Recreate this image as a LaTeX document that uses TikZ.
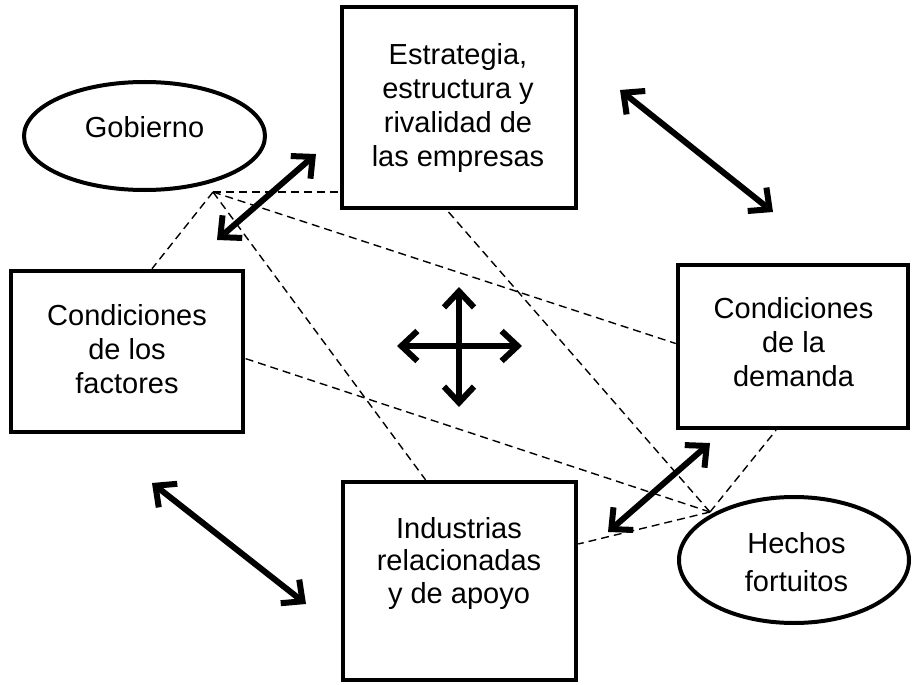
\documentclass[tikz,border=0pt]{standalone}
\usepackage{fontspec}
\setmainfont{Liberation Sans}
\usetikzlibrary{arrows.meta,calc,shapes.geometric}
\begin{document}
\begin{tikzpicture}[x=1pt,y=-1pt,
  box/.style={draw,line width=4.5pt,rectangle,inner sep=0pt},
  oval/.style={draw,line width=4pt,ellipse,inner sep=0pt},
  txt/.style={align=center,inner sep=0pt,font=\fontsize{29}{#1}\selectfont},
  txt/.default=34,
  dsh/.style={dash pattern=on 8pt off 5pt,line width=1.4pt},
  tip/.style={Straight Barb[length=16pt,width=30pt,round]},
  dbl/.style={line width=6pt,{Straight Barb[length=16pt,width=30pt]}-{Straight Barb[length=16pt,width=30pt]},line cap=round}]
\useasboundingbox (0,0) rectangle (913,685);

% boxes
\node[box,minimum width=234pt,minimum height=201pt] (top) at (459,107.5) {};
\node[box,minimum width=232pt,minimum height=161pt] (left) at (127,351.5) {};
\node[box,minimum width=230pt,minimum height=163pt] (right) at (793,346.5) {};
\node[box,minimum width=233pt,minimum height=198pt] (bot) at (459.5,581) {};
\node[oval,minimum width=241pt,minimum height=108pt] (gob) at (144.5,136) {};
\node[oval,minimum width=230pt,minimum height=126pt] (hech) at (794,560) {};

% texts
\node[txt=34] (ttop) at (458,108) {Estrategia,\\estructura y\\rivalidad de\\las empresas};
\node[txt=34] (tleft) at (127,349) {Condiciones\\de los\\factores};
\node[txt=34] (tright) at (793.5,342.5) {Condiciones\\de la\\demanda};
\node[txt=32.5] (tbot) at (459,563) {Industrias\\relacionadas\\y de apoyo};
\node[txt] (tgob) at (144.5,127) {Gobierno};
\node[txt=38.5] (thech) at (796.5,562) {Hechos\\fortuitos};

% dashed apexes
\coordinate (g) at (213,192);
\coordinate (h) at (710,512);
\draw[dsh] (g) -- (top.west |- g);
\draw[dsh] (g) -- ([xshift=25pt]left.north);
\draw[dsh] (g) -- ([yshift=3pt]right.west);
\draw[dsh] (g) -- ([xshift=-34pt]bot.north);
\draw[dsh] (h) -- ([xshift=-12pt]top.south);
\draw[dsh] (h) -- ([yshift=-7pt]left.east);
\draw[dsh] (h) -- ([xshift=-17pt]right.south);
\draw[dsh] (h) -- ([yshift=37pt]bot.east);

% thick double arrows
\coordinate (a1s) at (217,240); \coordinate (a1e) at (316,154);
\coordinate (a2s) at (620,90);  \coordinate (a2e) at (773,212);
\coordinate (a3s) at (152,483); \coordinate (a3e) at (306,604);
\coordinate (a4s) at (608,532); \coordinate (a4e) at (710,443);
\coordinate (cl) at (397,346); \coordinate (cr) at (522,346);
\coordinate (cu) at (459,287); \coordinate (cd) at (459,407);
\draw[dbl] (a1s) -- (a1e);
\draw[dbl] (a2s) -- (a2e);
\draw[dbl] (a3s) -- (a3e);
\draw[dbl] (a4s) -- (a4e);
\draw[dbl] (cl) -- (cr);
\draw[dbl] (cu) -- (cd);
\end{tikzpicture}
\end{document}
